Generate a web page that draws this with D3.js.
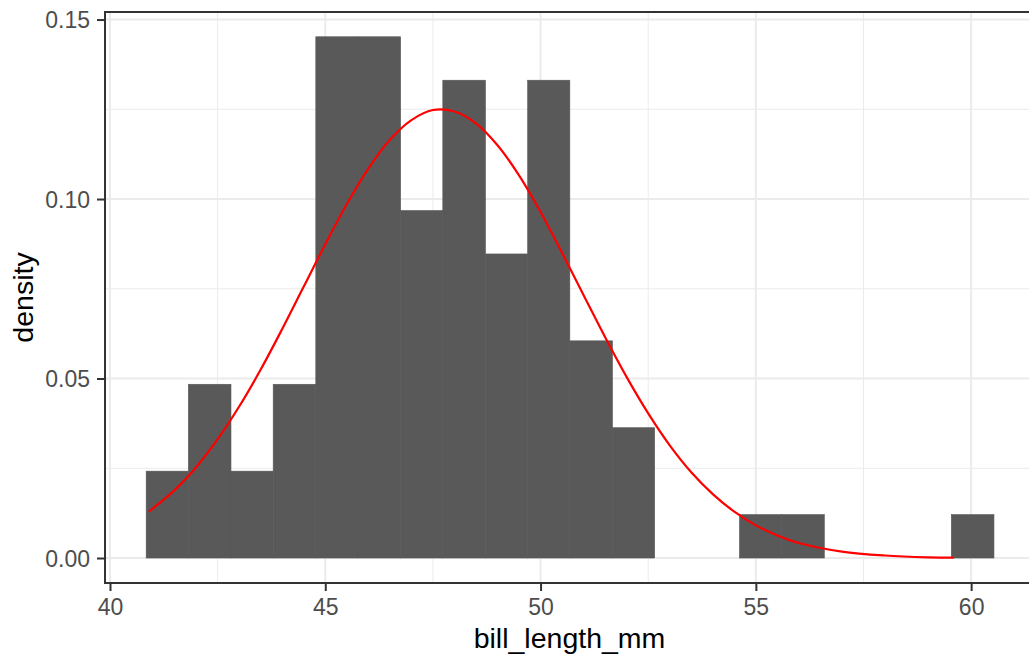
<!DOCTYPE html>
<html>
<head>
<meta charset="utf-8">
<script src="https://cdn.jsdelivr.net/npm/d3@7"></script>
<style>
  html, body { margin: 0; padding: 0; background: #ffffff; }
  svg { display: block; font-family: "Liberation Sans", Arial, sans-serif; }
</style>
</head>
<body>
<svg id="chart" width="1029" height="654"></svg>
<script>
// ---- data ----
const binEdges = [40.84, 41.82, 42.81, 43.79, 44.78, 45.76, 46.75, 47.73, 48.72, 49.70,
                  50.68, 51.67, 52.65, 53.64, 54.62, 55.60, 56.59, 57.57, 58.56, 59.54, 60.53];
const binDensity = [0.0242, 0.0484, 0.0242, 0.0484, 0.1452, 0.1452, 0.0968, 0.1331, 0.0847, 0.1331,
                    0.0605, 0.0363, 0, 0, 0.0121, 0.0121, 0, 0, 0, 0.0121];
const curveX = [40.9, 41.5, 42, 42.5, 43, 43.5, 44, 44.5, 45, 45.5, 46, 46.5, 47, 47.5, 48,
                48.5, 49, 49.5, 50, 50.5, 51, 51.5, 52, 52.5, 53, 53.5, 54, 54.5, 55, 55.5,
                56, 57, 58, 59, 59.6];
const curveY = [0.0129, 0.0189, 0.0253, 0.0331, 0.0422, 0.0525, 0.0638, 0.0756, 0.0874, 0.0986,
                0.1085, 0.1165, 0.1220, 0.1248, 0.1244, 0.1211, 0.1150, 0.1066, 0.0964, 0.0850,
                0.0732, 0.0615, 0.0504, 0.0403, 0.0314, 0.0239, 0.0178, 0.0129, 0.0091, 0.0063,
                0.0042, 0.0018, 0.0007, 0.0002, 0.0001];
const xTicks = [40, 45, 50, 55, 60];
const xMinor = [42.5, 47.5, 52.5, 57.5];
const yTicks = [0, 0.05, 0.10, 0.15];
const yMinor = [0.025, 0.075, 0.125];
const xTitle = "bill_length_mm";
const yTitle = "density";

// ---- layout ----
const panel = { left: 105, top: 12, right: 1034, bottom: 583 };
const svg = d3.select("#chart");

const x = d3.scaleLinear().domain([39.884, 61.46]).range([panel.left, panel.right]);
const y = d3.scaleLinear().domain([-0.00696, 0.1521]).range([panel.bottom, panel.top]);

const g = svg.append("g");
g.append("rect").attr("x", panel.left).attr("y", panel.top)
  .attr("width", panel.right - panel.left).attr("height", panel.bottom - panel.top)
  .attr("fill", "#ffffff");

// grid
const grid = g.append("g");
grid.selectAll(".xminor").data(xMinor).enter().append("line")
  .attr("x1", d => x(d)).attr("x2", d => x(d)).attr("y1", panel.top).attr("y2", panel.bottom)
  .attr("stroke", "#EBEBEB").attr("stroke-width", 1);
grid.selectAll(".yminor").data(yMinor).enter().append("line")
  .attr("y1", d => y(d)).attr("y2", d => y(d)).attr("x1", panel.left).attr("x2", panel.right)
  .attr("stroke", "#EBEBEB").attr("stroke-width", 1);
grid.selectAll(".xmajor").data(xTicks).enter().append("line")
  .attr("x1", d => x(d)).attr("x2", d => x(d)).attr("y1", panel.top).attr("y2", panel.bottom)
  .attr("stroke", "#EBEBEB").attr("stroke-width", 2);
grid.selectAll(".ymajor").data(yTicks).enter().append("line")
  .attr("y1", d => y(d)).attr("y2", d => y(d)).attr("x1", panel.left).attr("x2", panel.right)
  .attr("stroke", "#EBEBEB").attr("stroke-width", 2);

// bars
const bins = binDensity.map((d, i) => ({ x0: binEdges[i], x1: binEdges[i + 1], d }));
g.append("g").selectAll("rect").data(bins).enter().append("rect")
  .attr("x", b => x(b.x0))
  .attr("width", b => x(b.x1) - x(b.x0))
  .attr("y", b => y(b.d))
  .attr("height", b => y(0) - y(b.d))
  .attr("fill", "#595959")
  .attr("stroke", "#595959").attr("stroke-width", 0.6);

// normal curve
const pts = curveX.map((v, i) => [v, curveY[i]]);
g.append("path").datum(pts)
  .attr("d", d3.line().x(p => x(p[0])).y(p => y(p[1])).curve(d3.curveCatmullRom))
  .attr("fill", "none").attr("stroke", "#FF0000").attr("stroke-width", 2.2);

// panel border
g.append("rect").attr("x", panel.left).attr("y", panel.top)
  .attr("width", panel.right - panel.left).attr("height", panel.bottom - panel.top)
  .attr("fill", "none").attr("stroke", "#333333").attr("stroke-width", 2);

// axes
const xAxis = d3.axisBottom(x).tickValues(xTicks).tickSize(8).tickPadding(6).tickFormat(d3.format("d"));
const xg = svg.append("g").attr("transform", `translate(0,${panel.bottom})`).call(xAxis);
xg.select(".domain").remove();
xg.selectAll(".tick line").attr("stroke", "#333333").attr("stroke-width", 2);
xg.selectAll(".tick text").attr("fill", "#4D4D4D").attr("font-size", 23)
  .attr("font-family", "Liberation Sans, Arial, sans-serif").attr("dy", null).attr("y", 32);

const yAxis = d3.axisLeft(y).tickValues(yTicks).tickSize(8).tickPadding(7).tickFormat(d3.format(".2f"));
const yg = svg.append("g").attr("transform", `translate(${panel.left},0)`).call(yAxis);
yg.select(".domain").remove();
yg.selectAll(".tick line").attr("stroke", "#333333").attr("stroke-width", 2);
yg.selectAll(".tick text").attr("fill", "#4D4D4D").attr("font-size", 23)
  .attr("font-family", "Liberation Sans, Arial, sans-serif").attr("dy", "0.36em").attr("x", -15);

// titles
svg.append("text").attr("x", (panel.left + panel.right) / 2).attr("y", 648)
  .attr("text-anchor", "middle").attr("font-size", 28.5).attr("fill", "#000000").text(xTitle);
svg.append("text").attr("transform", `translate(33,${(panel.top + panel.bottom) / 2}) rotate(-90)`)
  .attr("text-anchor", "middle").attr("font-size", 28.5).attr("fill", "#000000").text(yTitle);
</script>
</body>
</html>
